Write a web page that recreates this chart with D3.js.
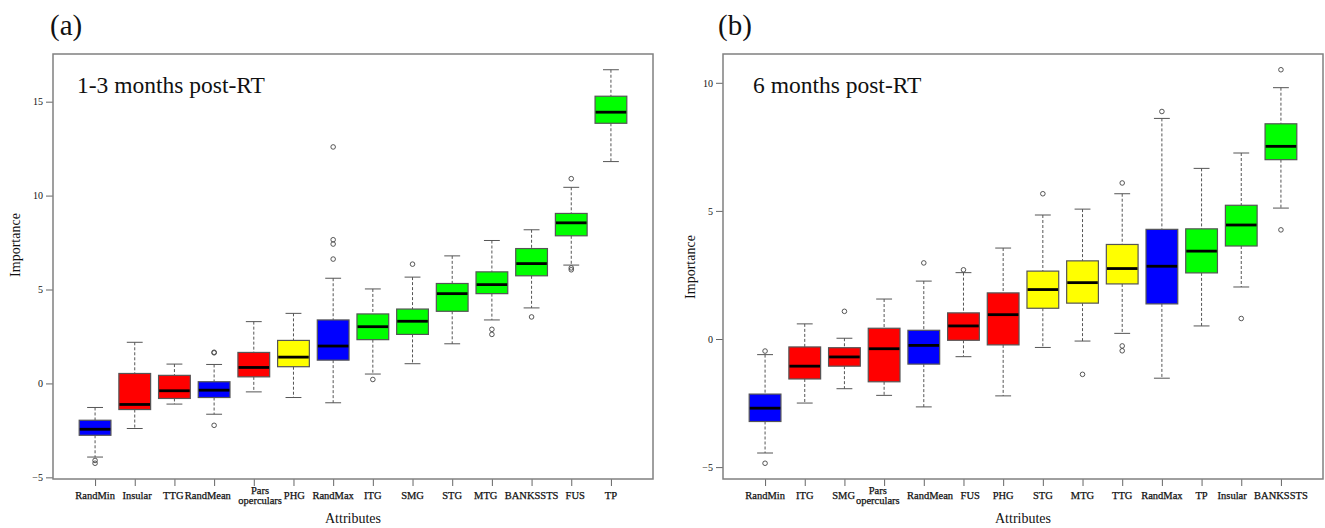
<!DOCTYPE html>
<html lang="en">

<head>
	<meta charset="UTF-8">
	<script src="https://cdn.jsdelivr.net/npm/d3@7"></script>
	<title>Boruta importance - post-RT</title>
	<style>
		body {
			margin: 0;
			background: #fff;
		}

		text {
			font-family: "Liberation Serif", "Times New Roman", serif;
			fill: #111;
		}

		.xlab {
			stroke: #111;
			stroke-width: 0.25;
		}

		.frame {
			fill: none;
			stroke: #808080;
			stroke-width: 1.5;
		}

		.tick line {
			stroke: #666;
		}
	</style>
</head>

<body>
	<div id="chart"></div>
	<script>
		// Panel (a): 1-3 months post-RT
		const labelsA = ['RandMin', 'Insular', 'TTG', 'RandMean', 'Pars\noperculars', 'PHG', 'RandMax', 'ITG', 'SMG', 'STG', 'MTG', 'BANKSSTS', 'FUS', 'TP'];
		const groupsA = ['shadow', 'rejected', 'rejected', 'shadow', 'rejected', 'tentative', 'shadow', 'confirmed', 'confirmed', 'confirmed', 'confirmed', 'confirmed', 'confirmed', 'confirmed'];
		const minA = [-3.92, -2.40, -1.10, -1.64, -0.45, -0.75, -1.03, 0.50, 1.05, 2.11, 3.38, 4.02, 6.30, 11.81];
		const q1A = [-2.76, -1.39, -0.80, -0.75, 0.35, 0.89, 1.24, 2.33, 2.61, 3.84, 4.78, 5.73, 7.86, 13.85];
		const medA = [-2.44, -1.12, -0.39, -0.36, 0.85, 1.40, 1.99, 3.02, 3.31, 4.78, 5.26, 6.38, 8.55, 14.44];
		const q3A = [-1.96, 0.53, 0.43, 0.09, 1.65, 2.29, 3.38, 3.70, 3.96, 5.32, 5.94, 7.18, 9.05, 15.29];
		const maxA = [-1.28, 2.19, 1.03, 1.01, 3.29, 3.73, 5.60, 5.03, 5.66, 6.79, 7.61, 8.18, 10.44, 16.70];
		const outA = [[-4.10, -4.25], [], [], [1.63, 1.66, -2.23], [], [], [12.59, 7.65, 7.42, 6.62], [0.21], [6.35], [], [2.88, 2.61], [3.54], [10.90, 6.15, 6.05], []];

		// Panel (b): 6 months post-RT
		const labelsB = ['RandMin', 'ITG', 'SMG', 'Pars\noperculars', 'RandMean', 'FUS', 'PHG', 'STG', 'MTG', 'TTG', 'RandMax', 'TP', 'Insular', 'BANKSSTS'];
		const groupsB = ['shadow', 'rejected', 'rejected', 'rejected', 'shadow', 'rejected', 'rejected', 'tentative', 'tentative', 'tentative', 'shadow', 'confirmed', 'confirmed', 'confirmed'];
		const minB = [-4.45, -2.50, -1.94, -2.20, -2.65, -0.69, -2.22, -0.33, -0.08, 0.22, -1.53, 0.51, 2.03, 5.11];
		const q1B = [-3.22, -1.56, -1.06, -1.67, -0.98, -0.05, -0.23, 1.20, 1.40, 2.15, 1.37, 2.58, 3.63, 7.00];
		const medB = [-2.70, -1.06, -0.70, -0.38, -0.25, 0.51, 0.95, 1.93, 2.20, 2.75, 2.84, 3.43, 4.45, 7.52];
		const q3B = [-2.15, -0.31, -0.34, 0.42, 0.34, 1.02, 1.80, 2.65, 3.05, 3.69, 4.28, 4.30, 5.22, 8.40];
		const maxB = [-0.61, 0.59, 0.03, 1.56, 2.26, 2.59, 3.55, 4.84, 5.07, 5.67, 8.61, 6.66, 7.26, 9.81];
		const outB = [[-0.47, -4.85], [], [1.08], [], [2.97], [2.70], [], [5.67], [-1.38], [6.09, -0.27, -0.46], [8.88], [], [0.80], [10.51, 4.26]];

		const yTicksA = [-5, 0, 5, 10, 15];
		const yTicksB = [-5, 0, 5, 10];

		const width = 1325;
		const height = 528;

		const svg = d3.select('#chart')
			.append('svg')
			.attr('width', width)
			.attr('height', height);

		// Boruta colours: shadow attributes blue, rejected red, tentative yellow, confirmed green
		const colorScale = d3.scaleOrdinal()
			.domain(['shadow', 'rejected', 'tentative', 'confirmed'])
			.range(['#0000ff', '#ff0000', '#ffff00', '#00ff00']);

		function drawPanel(opts) {
			const { left, right, top, bottom, labels, groups, mins, q1s, meds, q3s, maxs, outs, yTicks } = opts;
			const n = labels.length;
			const g = svg.append('g');

			// R style: 4% padding around data range
			const lo = d3.min([d3.min(mins), d3.min(outs.flat())]);
			const hi = d3.max([d3.max(maxs), d3.max(outs.flat())]);
			const padY = (hi - lo) * 0.04;
			const padX = n * 0.04;
			const xScale = d3.scaleLinear().domain([0.5 - padX, n + 0.5 + padX]).range([left, right]);
			const yScale = d3.scaleLinear().domain([lo - padY, hi + padY]).range([bottom, top]);

			const boxW = xScale(0.8) - xScale(0);
			const capW = boxW / 2;

			const data = labels.map((d, i) => ({
				label: d, group: groups[i], x: i + 1,
				min: mins[i], q1: q1s[i], med: meds[i], q3: q3s[i], max: maxs[i], out: outs[i]
			}));

			// axes
			const yAxis = d3.axisLeft(yScale).tickValues(yTicks).tickSize(7).tickPadding(3);
			const xAxis = d3.axisBottom(xScale).tickValues(d3.range(1, n + 1)).tickSize(7).tickFormat('');

			const gy = g.append('g')
				.attr('transform', `translate(${left},0)`)
				.call(yAxis);
			gy.select('.domain').remove();
			gy.selectAll('text').style('font-size', '10px').attr('fill', '#111');

			const gx = g.append('g')
				.attr('transform', `translate(0,${bottom})`)
				.call(xAxis);
			gx.select('.domain').remove();

			// x labels (some wrap onto two lines)
			const xl = g.selectAll('.xlab')
				.data(data)
				.enter()
				.append('text')
				.attr('class', 'xlab')
				.attr('text-anchor', 'middle')
				.style('font-size', '10.5px')
				.each(function (d) {
					const lines = d.label.split('\n');
					const t = d3.select(this);
					lines.forEach((line, k) => {
						t.append('tspan')
							.attr('x', xScale(d.x))
							.attr('y', bottom + 20 + (k - (lines.length - 1) / 2) * 10)
							.text(line);
					});
				});

			// nudge crowded neighbouring labels apart (narrower one moves)
			const minGap = 7;
			const boxes = xl.nodes().map((node, i) => ({ node, w: node.getBBox().width, c: xScale(i + 1) }));
			for (let i = 0; i < boxes.length - 1; i++) {
				const a = boxes[i], b = boxes[i + 1];
				const gap = (b.c - b.w / 2) - (a.c + a.w / 2);
				if (gap < minGap) {
					const need = minGap - gap;
					if (a.w < b.w * 0.8) a.c -= need;
					else if (b.w < a.w * 0.8) b.c += need;
					else { a.c -= need / 2; b.c += need / 2; }
				}
			}
			boxes.forEach(b => d3.select(b.node).selectAll('tspan').attr('x', b.c));

			// whiskers
			const wh = g.selectAll('.whisk')
				.data(data)
				.enter()
				.append('g');
			wh.append('line')
				.attr('x1', d => xScale(d.x)).attr('x2', d => xScale(d.x))
				.attr('y1', d => yScale(d.max)).attr('y2', d => yScale(d.q3))
				.attr('stroke', '#555').attr('stroke-dasharray', '3,2');
			wh.append('line')
				.attr('x1', d => xScale(d.x)).attr('x2', d => xScale(d.x))
				.attr('y1', d => yScale(d.q1)).attr('y2', d => yScale(d.min))
				.attr('stroke', '#555').attr('stroke-dasharray', '3,2');
			wh.append('line')
				.attr('x1', d => xScale(d.x) - capW / 2).attr('x2', d => xScale(d.x) + capW / 2)
				.attr('y1', d => yScale(d.max)).attr('y2', d => yScale(d.max))
				.attr('stroke', '#555');
			wh.append('line')
				.attr('x1', d => xScale(d.x) - capW / 2).attr('x2', d => xScale(d.x) + capW / 2)
				.attr('y1', d => yScale(d.min)).attr('y2', d => yScale(d.min))
				.attr('stroke', '#555');

			// boxes
			g.selectAll('.box')
				.data(data)
				.enter()
				.append('rect')
				.attr('x', d => xScale(d.x) - boxW / 2)
				.attr('y', d => yScale(d.q3))
				.attr('width', boxW)
				.attr('height', d => yScale(d.q1) - yScale(d.q3))
				.attr('fill', d => colorScale(d.group))
				.attr('stroke', '#555')
				.attr('stroke-width', 1.2);

			// medians
			g.selectAll('.med')
				.data(data)
				.enter()
				.append('line')
				.attr('x1', d => xScale(d.x) - boxW / 2 + 0.6)
				.attr('x2', d => xScale(d.x) + boxW / 2 - 0.6)
				.attr('y1', d => yScale(d.med))
				.attr('y2', d => yScale(d.med))
				.attr('stroke', '#000')
				.attr('stroke-width', 2.8);

			// outliers
			g.selectAll('.out')
				.data(data.flatMap(d => d.out.map(v => ({ x: d.x, v }))))
				.enter()
				.append('circle')
				.attr('cx', d => xScale(d.x))
				.attr('cy', d => yScale(d.v))
				.attr('r', 2.3)
				.attr('fill', 'none')
				.attr('stroke', '#444')
				.attr('stroke-width', 0.9);

			// frame
			g.append('rect')
				.attr('class', 'frame')
				.attr('x', left).attr('y', top)
				.attr('width', right - left).attr('height', bottom - top);

			// labels
			g.append('text')
				.attr('x', (left + right) / 2)
				.attr('y', 523)
				.attr('text-anchor', 'middle')
				.style('font-size', '14px')
				.text('Attributes');
			g.append('text')
				.attr('transform', `translate(${opts.ylabX},${opts.ylabY}) rotate(-90)`)
				.attr('text-anchor', 'middle')
				.attr('dy', '0.35em')
				.style('font-size', '14px')
				.text('Importance');
			g.append('text')
				.attr('x', opts.titleX)
				.attr('y', 93)
				.style('font-size', '23.5px')
				.text(opts.title);
			g.append('text')
				.attr('x', opts.tagX)
				.attr('y', 35)
				.style('font-size', '29px')
				.text(opts.tag);
		}

		drawPanel({
			left: 53, right: 653, top: 54, bottom: 479,
			labels: labelsA, groups: groupsA, mins: minA, q1s: q1A, meds: medA, q3s: q3A, maxs: maxA, outs: outA,
			yTicks: yTicksA, ylabX: 15, ylabY: 245,
			title: '1-3 months post-RT', titleX: 77, tag: '(a)', tagX: 50
		});

		drawPanel({
			left: 723, right: 1323, top: 54, bottom: 479,
			labels: labelsB, groups: groupsB, mins: minB, q1s: q1B, meds: medB, q3s: q3B, maxs: maxB, outs: outB,
			yTicks: yTicksB, ylabX: 690, ylabY: 267,
			title: '6 months post-RT', titleX: 753, tag: '(b)', tagX: 718
		});
	</script>
</body>

</html>
